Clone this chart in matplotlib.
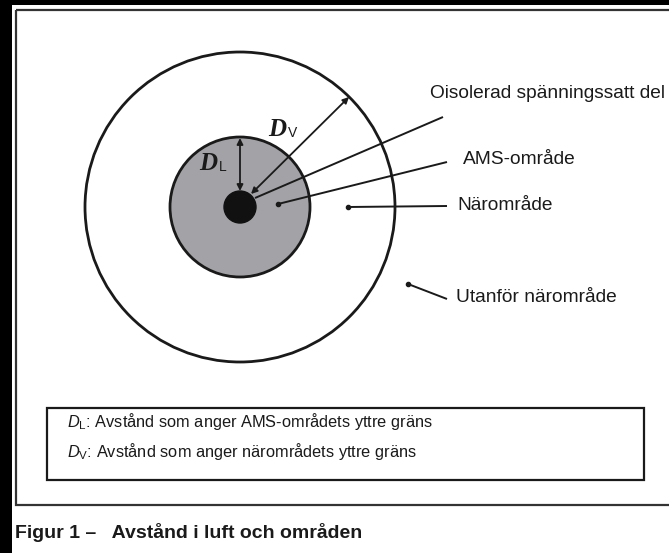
import matplotlib
matplotlib.use("Agg")
import matplotlib.pyplot as plt
from matplotlib.patches import Circle, Rectangle, FancyArrowPatch
import matplotlib.font_manager as fm

plt.rcParams['font.family'] = ['Liberation Sans', 'DejaVu Sans']
plt.rcParams['mathtext.fontset'] = 'custom'
plt.rcParams['mathtext.rm'] = 'Liberation Sans'
plt.rcParams['mathtext.it'] = 'Liberation Sans:italic'

# geometry (pixels, y down)
center = (240, 207)
r_outer = 155
r_ams = 70
r_part = 16
gray = '#a3a3a7'

# labels on the right: text, text anchor, leader line start, leader line end, dot at start
labels = ["Oisolerad spänningssatt del", "AMS-område", "Närområde", "Utanför närområde"]
label_xy = [(430, 93), (463, 160), (457, 205), (456, 298)]
lead_from = [(255, 198), (278, 204), (348, 207), (408, 284)]
lead_to = [(443, 117), (447, 162), (447, 206), (447, 299)]
lead_dot = [False, True, True, True]

# distance arrows
dl_arrow = [(240, 138), (240, 191)]
dv_arrow = [(251, 194), (349, 97)]
dl_label = (208, 163)
dv_label = (277, 129)

legend_lines = [r"$D_\mathrm{L}$: Avstånd som anger AMS-områdets yttre gräns",
                r"$D_\mathrm{V}$: Avstånd som anger närområdets yttre gräns"]
caption = "Figur 1 –   Avstånd i luft och områden"

W, H = 669, 553
fig = plt.figure(figsize=(W / 100, H / 100), dpi=100)
ax = fig.add_axes([0, 0, 1, 1])
ax.set_xlim(0, W)
ax.set_ylim(H, 0)
ax.axis('off')

# scan borders
ax.add_patch(Rectangle((0, 0), 12, H, color='black', lw=0))
ax.add_patch(Rectangle((0, 0), W, 5, color='black', lw=0))
ax.add_patch(Rectangle((16, 10), W, 495, fill=False, ec='#333333', lw=1.6))

# circles
ax.add_patch(Circle(center, r_outer, fill=False, ec='#1a1a1a', lw=2.0))
ax.add_patch(Circle(center, r_ams, fc=gray, ec='#1a1a1a', lw=2.0))
ax.add_patch(Circle(center, r_part, fc='#111111', ec='#111111', lw=1))

# arrows
for a in [dl_arrow, dv_arrow]:
    ax.add_patch(FancyArrowPatch(a[0], a[1], arrowstyle='<|-|>', mutation_scale=9,
                                 color='#1a1a1a', lw=1.3, shrinkA=0, shrinkB=0))

serif = fm.FontProperties(family='Liberation Serif', weight='bold', style='italic', size=18)
ax.text(dl_label[0], dl_label[1], "D", fontproperties=serif, ha='center', va='center', color='#1a1a1a')
ax.text(dl_label[0] + 11, dl_label[1] + 4, "L", fontsize=10, ha='left', va='center', color='#1a1a1a')
ax.text(dv_label[0], dv_label[1], "D", fontproperties=serif, ha='center', va='center', color='#1a1a1a')
ax.text(dv_label[0] + 11, dv_label[1] + 4, "V", fontsize=10, ha='left', va='center', color='#1a1a1a')

# leader lines and labels
for txt, pos, p0, p1, dot in zip(labels, label_xy, lead_from, lead_to, lead_dot):
    ax.plot([p0[0], p1[0]], [p0[1], p1[1]], color='#1a1a1a', lw=1.4, solid_capstyle='butt')
    if dot:
        ax.plot(p0[0], p0[1], 'o', color='#1a1a1a', ms=3)
    ax.text(pos[0], pos[1], txt, fontsize=13.8, ha='left', va='center', color='#1a1a1a')

# legend box
ax.add_patch(Rectangle((47, 408), 597, 72, fill=False, ec='#1a1a1a', lw=1.6))
for i, line in enumerate(legend_lines):
    ax.text(67, 422 + i * 29, line, fontsize=11.8, ha='left', va='center', color='#1a1a1a')

ax.text(15, 533, caption, family=['Liberation Sans Narrow', 'Liberation Sans'], weight='bold',
        fontsize=14, ha='left', va='center', color='#1a1a1a')

fig.savefig('out.png', dpi=100)
